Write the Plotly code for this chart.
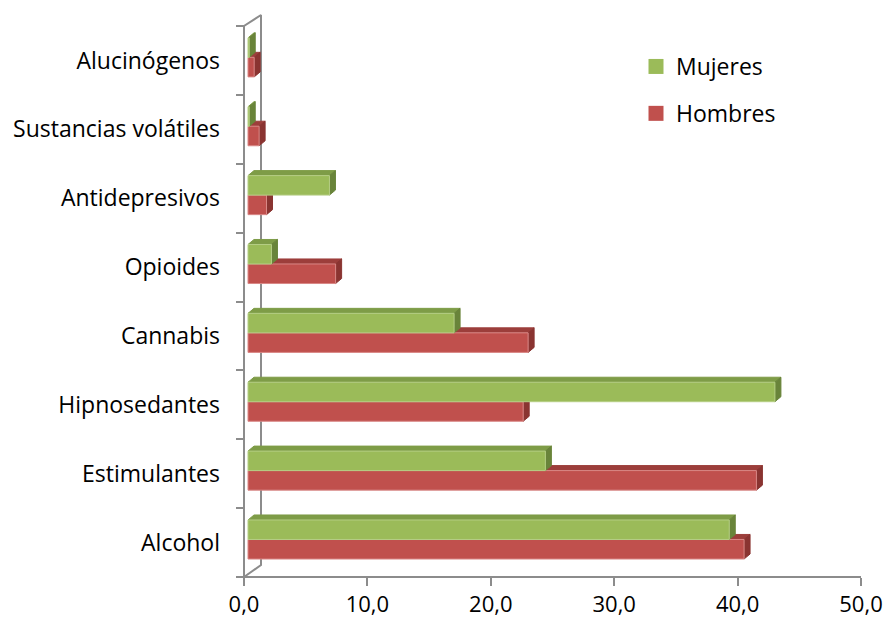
import plotly.graph_objects as go

# Consumption by substance and sex (%), bottom to top
categories = ["Alcohol", "Estimulantes", "Hipnosedantes", "Cannabis",
              "Opioides", "Antidepresivos", "Sustancias volátiles", "Alucinógenos"]
mujeres = [39.0, 24.1, 42.7, 16.7, 1.9, 6.6, 0.1, 0.1]
hombres = [40.2, 41.2, 22.3, 22.7, 7.1, 1.5, 0.9, 0.5]
x_ticks = [0, 10, 20, 30, 40, 50]

# Pixel scale of the value axis and the category axis
PX_X = 617 / 50.0       # px per value unit
PX_Y = 551 / 8.0        # px per category band

# Pseudo-3D geometry (in data units)
BAR_X0 = 4 / PX_X             # bars sit slightly in front of the wall
DX, DY = 6 / PX_X, 5 / PX_Y   # bar depth projection
WALL_DX, WALL_DY_BOT, WALL_DY_TOP = 17 / PX_X, 12 / PX_Y, 11 / PX_Y
RED_Y = (0.261, 0.545)
GREEN_Y = (0.545, 0.828)

GREEN = dict(front="#9BBB59", top="#7E9C47", side="#69843A", edge="#B5CE85")
RED = dict(front="#C0504D", top="#9C3E3B", side="#8A3431", edge="#D98886")
AXIS_GRAY = "#8C8C8C"


def faces(values, band):
    fx, fy, tx, ty, sx, sy = [], [], [], [], [], []
    for i, v in enumerate(values):
        y0, y1 = i + band[0], i + band[1]
        x0, x1 = BAR_X0, BAR_X0 + v
        fx += [x0, x1, x1, x0, x0, None]
        fy += [y0, y0, y1, y1, y0, None]
        tx += [x0, x1, x1 + DX, x0 + DX, x0, None]
        ty += [y1, y1, y1 + DY, y1 + DY, y1, None]
        sx += [x1, x1 + DX, x1 + DX, x1, x1, None]
        sy += [y0, y0 + DY, y1 + DY, y1, y0, None]
    return (fx, fy), (tx, ty), (sx, sy)


fig = go.Figure()

# Wall and floor outline
n = len(categories)
wall_x = [0, 0, WALL_DX, WALL_DX, 0, None, 0, x_ticks[-1]]
wall_y = [0, n, n + WALL_DY_TOP, WALL_DY_BOT, 0, None, 0, 0]
fig.add_trace(go.Scatter(x=wall_x, y=wall_y, mode="lines",
                         line=dict(color=AXIS_GRAY, width=2),
                         hoverinfo="skip", showlegend=False))


def add_series(values, band, col):
    front, top, side = faces(values, band)
    for (xs, ys), c, edge in ((top, col["top"], col["top"]),
                              (side, col["side"], col["side"]),
                              (front, col["front"], col["edge"])):
        fig.add_trace(go.Scatter(x=xs, y=ys, mode="lines", fill="toself",
                                 fillcolor=c, line=dict(color=edge, width=1),
                                 hoverinfo="skip", showlegend=False))


add_series(hombres, RED_Y, RED)
add_series(mujeres, GREEN_Y, GREEN)

# Legend entries
fig.add_trace(go.Scatter(x=[None], y=[None], mode="markers", name="Mujeres",
                         legendgroup="m",
                         marker=dict(symbol="square", size=15, color=GREEN["front"])))
fig.add_trace(go.Scatter(x=[None], y=[None], mode="markers", name="Hombres",
                         legendgroup="h",
                         marker=dict(symbol="square", size=15, color=RED["front"])))

# Plot area in px
L, R, T, B = 226, 876, 8, 592
x_axis_px, y_axis_px = 244, 577

FAMILY = "'Open Sans', 'Noto Sans', sans-serif"
FS = 23
font = dict(family=FAMILY, size=FS, color="#000000")

fig.update_layout(
    width=888, height=621,
    margin=dict(l=L, r=888 - R, t=T, b=621 - B, autoexpand=False),
    paper_bgcolor="white", plot_bgcolor="white",
    separators=", ",
    font=font,
    showlegend=True,
    legend=dict(x=(636 - L) / (R - L), y=1 - (45 - T) / (B - T),
                xanchor="left", yanchor="top", traceorder="grouped",
                tracegroupgap=14, font=font, bgcolor="rgba(0,0,0,0)"),
    xaxis=dict(
        range=[(L - x_axis_px) / PX_X, (R - x_axis_px) / PX_X],
        anchor="free", position=(B - y_axis_px) / (B - T), automargin=False,
        showline=False, showgrid=False, zeroline=False,
        tickmode="array", tickvals=x_ticks, tickformat=".1f",
        ticks="outside", ticklen=8, tickwidth=2, tickcolor=AXIS_GRAY,
        ticklabelstandoff=0,
        tickfont=dict(family=FAMILY, size=22, color="#000000"),
    ),
    yaxis=dict(
        range=[(y_axis_px - B) / PX_Y, (y_axis_px - T) / PX_Y],
        anchor="free", position=(x_axis_px - L) / (R - L), automargin=False,
        showline=False, showgrid=False, zeroline=False,
        tickmode="array", tickvals=[i + 0.5 for i in range(n)], ticktext=categories,
        ticks="", ticklabelstandoff=24,
        tickfont=dict(family=FAMILY, size=FS, color="#000000"),
        minor=dict(tickmode="array", tickvals=list(range(n + 1)), ticks="outside",
                   ticklen=8, tickwidth=2, tickcolor=AXIS_GRAY, showgrid=False),
    ),
)

fig.write_html("out.html")
